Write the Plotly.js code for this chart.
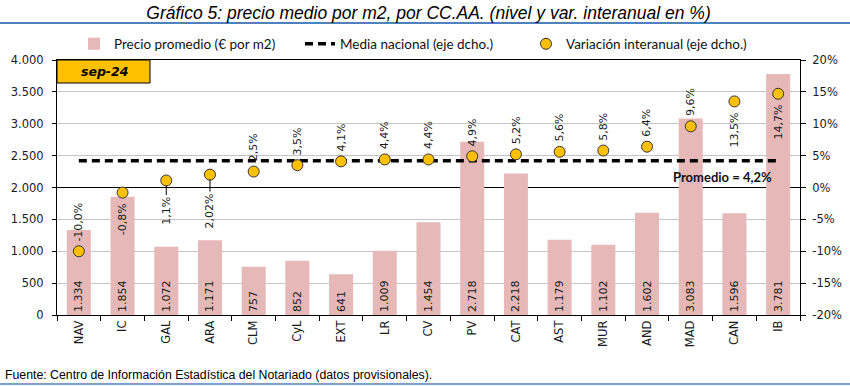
<!DOCTYPE html>
<html><head><meta charset="utf-8">
<script src="https://cdn.plot.ly/plotly-3.0.1.min.js"></script>
<style>html,body{margin:0;padding:0;background:#fff}#chart{width:850px;height:386px}</style>
</head><body><div id="chart"></div>
<script>
// ---- data ----
const categories = ["NAV","IC","GAL","ARA","CLM","CyL","EXT","LR","CV","PV","CAT","AST","MUR","AND","MAD","CAN","IB"];
const precio = [1334,1854,1072,1171,757,852,641,1009,1454,2718,2218,1179,1102,1602,3083,1596,3781];
const variacion = [-10.0,-0.8,1.1,2.02,2.5,3.5,4.1,4.4,4.4,4.9,5.2,5.6,5.8,6.4,9.6,13.5,14.7];
const variacionLabels = ["-10,0%","-0,8%","1,1%","2,02%","2,5%","3,5%","4,1%","4,4%","4,4%","4,9%","5,2%","5,6%","5,8%","6,4%","9,6%","13,5%","14,7%"];
const mediaNacional = 4.2;
const mediaLabel = "Promedio = 4,2%";
const periodo = "sep-24";
const rightTickVals = [-20,-15,-10,-5,0,5,10,15,20];
const rightTickText = ["-20%","-15%","-10%","-5%","0%","5%","10%","15%","20%"];
const seriesNames = ["Precio promedio (€ por m2)","Media nacional (eje dcho.)","Variación interanual (eje dcho.)"];
const titleText = "Gráfico 5: precio medio por m2, por CC.AA. (nivel y var. interanual en %)";
const sourceText = "Fuente: Centro de Información Estadística del Notariado (datos provisionales).";

// ---- styling / layout ----
const W = 850, H = 386, ML = 57, MR = 50, MT = 60, MB = 71;
const PW = W - ML - MR, PH = H - MT - MB;
const px2x = p => (p - ML) / PW;
const py2y = p => (H - MB - p) / PH;
const tickFont = {family: "DejaVu Sans, Verdana, sans-serif", size: 11.5, color: "#1a1a1a"};
const labFont = {family: "DejaVu Sans, Verdana, sans-serif", size: 11, color: "#1a1a1a"};
const narrow = "Liberation Sans Narrow, Arial Narrow, Liberation Sans, Arial, sans-serif";
const calib = "Lato, Carlito, Calibri, sans-serif";

const belowLabels = {"IC": -9, "CAN": -9, "IB": -9};
const leaderLabels = {"GAL": 30, "ARA": 36};

const traces = [
  {type: "bar", x: categories, y: precio, name: seriesNames[0], yaxis: "y",
   marker: {color: "#E6B9B8"},
   texttemplate: "%{y:,.0f}", textposition: "inside", insidetextanchor: "start",
   textangle: -90, textfont: labFont, constraintext: "none", hoverinfo: "skip"},
  {type: "scatter", mode: "lines", x: categories, y: categories.map(() => mediaNacional),
   name: seriesNames[1], yaxis: "y2",
   line: {color: "#000", width: 3.5, dash: "8px,5px"}, hoverinfo: "skip"},
  {type: "scatter", mode: "markers", x: categories, y: variacion, name: seriesNames[2], yaxis: "y2",
   marker: {color: "#FFC000", size: 11, line: {color: "#333", width: 1}}, hoverinfo: "skip"}
];

const annotations = [];
categories.forEach((c, i) => {
  const base = {x: c, y: variacion[i], xref: "x", yref: "y2", text: variacionLabels[i],
    textangle: -90, font: labFont};
  if (leaderLabels[c] !== undefined) {
    annotations.push(Object.assign(base, {showarrow: true, arrowhead: 0, arrowwidth: 1,
      arrowcolor: "#000", ax: 0, ay: leaderLabels[c], standoff: 5}));
  } else if (belowLabels[c] !== undefined) {
    annotations.push(Object.assign(base, {showarrow: false, yanchor: "top", yshift: belowLabels[c]}));
  } else {
    annotations.push(Object.assign(base, {showarrow: false, yanchor: "bottom", yshift: 8}));
  }
});
annotations.push({x: categories[categories.length - 1], y: mediaNacional, xref: "x", yref: "y2",
  text: "<b>" + mediaLabel + "</b>", showarrow: false, xanchor: "right", xshift: -4,
  yanchor: "top", yshift: -6, font: {family: calib, size: 13, color: "#111"}});
annotations.push({x: px2x(104), y: py2y(71.5), xref: "paper", yref: "paper",
  text: "<b><i>" + periodo + "</i></b>", showarrow: false, xanchor: "center", yanchor: "middle",
  font: {family: "DejaVu Sans, Verdana, sans-serif", size: 12.5, color: "#000"}});
annotations.push({x: px2x(3), y: py2y(375), xref: "paper", yref: "paper", text: sourceText,
  showarrow: false, xanchor: "left", yanchor: "middle",
  font: {family: narrow, size: 12.3, color: "#000"}});

const shapes = [
  {type: "rect", xref: "paper", yref: "paper", x0: 0, x1: px2x(150), y0: py2y(83), y1: 1,
   fillcolor: "#FFC000", line: {color: "#000", width: 1}},
  {type: "line", xref: "paper", yref: "paper", x0: px2x(0), x1: px2x(850), y0: py2y(23), y1: py2y(23),
   line: {color: "#4F81BD", width: 2}},
  {type: "line", xref: "paper", yref: "paper", x0: px2x(0), x1: px2x(850), y0: py2y(384), y1: py2y(384),
   line: {color: "#4F81BD", width: 1.5}}
];

const layout = {
  width: W, height: H, margin: {l: ML, r: MR, t: MT, b: MB},
  paper_bgcolor: "#fff", plot_bgcolor: "#fff",
  separators: ",.",
  bargap: 0.45,
  showlegend: true,
  title: {text: "<i>" + titleText + "</i>", x: 0.5, xanchor: "center", xref: "paper",
          y: 1 - 13 / H, yanchor: "middle", yref: "container",
          font: {family: narrow, size: 17.5, color: "#000"}},
  legend: {orientation: "h", x: px2x(74), xanchor: "left", y: py2y(44), yanchor: "middle",
           font: {family: calib, size: 13.5, color: "#111"}, bgcolor: "rgba(0,0,0,0)",
           entrywidth: 181, entrywidthmode: "pixels", traceorder: "normal"},
  xaxis: {type: "category", range: [-0.5, categories.length - 0.5], autorange: false,
          showline: true, linecolor: "#000", linewidth: 1, mirror: true,
          ticks: "outside", tickson: "boundaries", ticklen: 5, tickcolor: "#000",
          tickangle: -90, tickfont: tickFont, showgrid: false, zeroline: false},
  yaxis: {range: [0, 4000], dtick: 500, tickformat: ",.0f", showline: true, linecolor: "#000",
          ticks: "outside", ticklen: 4, tickcolor: "#000", tickfont: tickFont, ticklabelstandoff: 6,
          showgrid: true, gridcolor: "#C4C4C4", gridwidth: 1, zeroline: false},
  yaxis2: {range: [-20, 20], overlaying: "y", side: "right", tickvals: rightTickVals,
           ticktext: rightTickText, showline: true, linecolor: "#000", ticks: "outside",
           ticklen: 5, tickcolor: "#000", tickfont: tickFont, ticklabelstandoff: 4, showgrid: false,
           zeroline: true, zerolinecolor: "#000", zerolinewidth: 1},
  annotations: annotations,
  shapes: shapes
};

Plotly.newPlot("chart", traces, layout, {displayModeBar: false, staticPlot: true});
</script></body></html>
